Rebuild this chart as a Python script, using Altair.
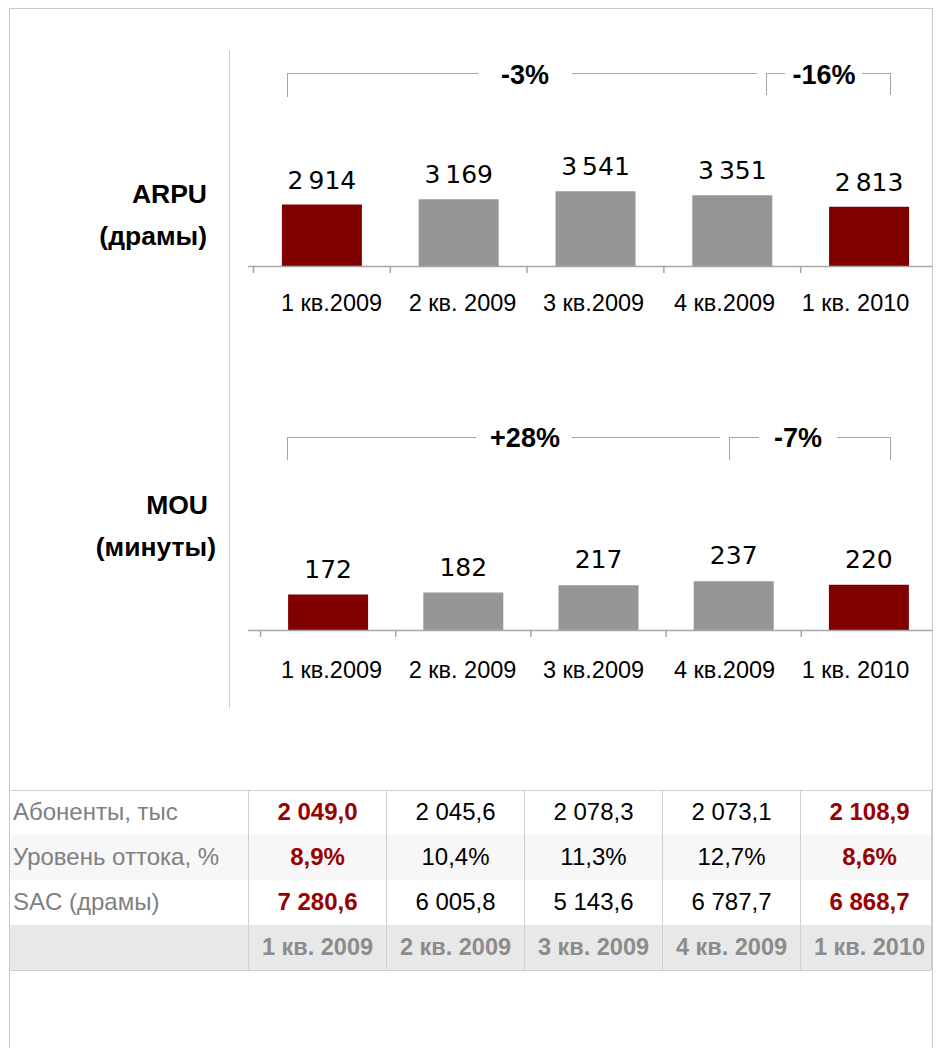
import altair as alt
import pandas as pd

# ---------------- data ----------------
quarters = ["1 кв.2009", "2 кв. 2009", "3 кв.2009", "4 кв.2009", "1 кв. 2010"]
table_quarters = ["1 кв. 2009", "2 кв. 2009", "3 кв. 2009", "4 кв. 2009", "1 кв. 2010"]
highlight = [True, False, False, False, True]
arpu = [2914, 3169, 3541, 3351, 2813]
mou = [172, 182, 217, 237, 220]
arpu_changes = ["-3%", "-16%"]
mou_changes = ["+28%", "-7%"]
arpu_title = ["ARPU", "(драмы)"]
mou_title = ["MOU", "(минуты)"]
row_labels = ["Абоненты, тыс", "Уровень оттока, %", "SAC (драмы)"]
subscribers = [2049.0, 2045.6, 2078.3, 2073.1, 2108.9]
churn = [8.9, 10.4, 11.3, 12.7, 8.6]
sac = [7280.6, 6005.8, 5143.6, 6787.7, 6868.7]


def ru_num(v, dec, sep=" "):
    s = f"{v:,.{dec}f}"
    return s.replace(",", "\u0001").replace(".", ",").replace("\u0001", sep)


# ---------------- style ----------------
RED = "#800000"
GRAY_BAR = "#969696"
TXT_RED = "#990000"
LINE = "#a6a6a6"
GRID = "#d0d0d0"
FRAME = "#c8c8c8"
FONT = "Liberation Sans"

W, H = 925, 1040
RIGHT = 932  # right-most visible page x


def P(v):
    return v - 8


one = pd.DataFrame({"k": [0]})


def hline(x1, x2, y, color=LINE, w=1.0):
    return alt.Chart(one).mark_rule(color=color, strokeWidth=w).encode(
        x=alt.value(P(x1)), x2=alt.value(P(x2)), y=alt.value(P(y) + 0.5))


def vline(x, y1, y2, color=LINE, w=1.0):
    return alt.Chart(one).mark_rule(color=color, strokeWidth=w).encode(
        x=alt.value(P(x) + 0.5), y=alt.value(P(y1)), y2=alt.value(P(y2)))


def note(text, x, y, size=27, weight="bold", align="center", color="black"):
    return alt.Chart(one).mark_text(
        text=text, font=FONT, fontSize=size, fontWeight=weight, align=align,
        baseline="middle", color=color).encode(x=alt.value(P(x)), y=alt.value(P(y)))


def bar_panel(values, band_range, zero_y, px_per_unit, dmax, dy):
    df = pd.DataFrame({"q": quarters, "v": values, "hl": highlight,
                       "lab": [ru_num(v, 0, "\u2009") for v in values]})
    xs = alt.Scale(domain=quarters, range=[P(band_range[0]) + 0.5, P(band_range[1]) + 0.5],
                   paddingInner=0, paddingOuter=0)
    ys = alt.Scale(domain=[0, dmax], range=[P(zero_y), P(zero_y) - dmax * px_per_unit],
                   nice=False, zero=True)
    X = alt.X("q:N", scale=xs, axis=None, sort=quarters)
    Y = alt.Y("v:Q", scale=ys, axis=None)
    bars = alt.Chart(df).mark_bar(size=80).encode(
        x=X, y=Y,
        color=alt.condition("datum.hl", alt.value(RED), alt.value(GRAY_BAR)))
    vals = alt.Chart(df).mark_text(
        font="DejaVu Sans", fontSize=25, baseline="alphabetic", dy=dy, color="black"
    ).encode(x=X, y=Y, text="lab:N")
    ticks = alt.Chart(df).mark_rule(color=LINE, strokeWidth=1.5).encode(
        x=alt.X("q:N", scale=xs, axis=None, sort=quarters, bandPosition=0),
        y=alt.value(P(zero_y)), y2=alt.value(P(zero_y) + 7))
    return alt.layer(bars, vals, ticks)


def axis_labels(y):
    df = pd.DataFrame({"lab": quarters})
    return alt.Chart(df).mark_text(
        font=FONT, fontSize=23.5, baseline="middle", color="black"
    ).encode(
        x=alt.X("lab:N", scale=alt.Scale(domain=quarters, range=[P(266), P(921)],
                                         paddingInner=0, paddingOuter=0),
                axis=None, sort=quarters),
        y=alt.value(P(y)), text="lab:N")


layers = []

# outer frame and separator
layers += [
    vline(9, 8, H + 8, FRAME),
    vline(RIGHT, 8, H + 8, FRAME),
    hline(9, RIGHT + 1, 8, FRAME),
    vline(229, 50, 708, "#d0d0d0"),
]

# ---------------- ARPU panel ----------------
layers.append(bar_panel(arpu, (253, 937), 266, 0.0211, 4000, -16))
layers += [
    hline(248, RIGHT, 266, LINE, 1.5),
]
layers.append(axis_labels(304))
layers += [
    note(arpu_title[0], 207, 195, size=26.5, align="right"),
    note(arpu_title[1], 207, 237, size=26.5, align="right"),
    hline(287, 478, 73), hline(572, 757, 73), vline(287, 73, 97),
    hline(766, 785, 73), hline(862, 890, 73), vline(766, 73, 95), vline(890, 73, 95),
    note(arpu_changes[0], 525, 76),
    note(arpu_changes[1], 824, 76),
]

# ---------------- MOU panel ----------------
layers.append(bar_panel(mou, (260, 936), 630, 0.206, 300, -17))
layers += [
    hline(248, RIGHT, 630, LINE, 1.5),
]
layers.append(axis_labels(671))
layers += [
    note(mou_title[0], 208, 506, size=26.5, align="right"),
    note(mou_title[1], 216, 548, size=26.5, align="right"),
    hline(287, 476, 437), hline(572, 720, 437), vline(287, 437, 460),
    hline(729, 759, 437), hline(837, 890, 437), vline(729, 437, 460), vline(890, 437, 460),
    note(mou_changes[0], 525, 439),
    note(mou_changes[1], 798, 439),
]

# ---------------- table ----------------
rows = ["r0", "r1", "r2", "r3"]
texts = [
    [ru_num(v, 1) for v in subscribers],
    [ru_num(v, 1) + "%" for v in churn],
    [ru_num(v, 1) for v in sac],
]
cells = []
for i, vals in enumerate(texts):
    for j, t in enumerate(vals):
        cells.append({"r": rows[i], "c": table_quarters[j], "t": t,
                      "hl": highlight[j], "hdr": False})
for j, t in enumerate(table_quarters):
    cells.append({"r": rows[3], "c": t, "t": t, "hl": highlight[j], "hdr": True})
cells_df = pd.DataFrame(cells)

xs_t = alt.Scale(domain=table_quarters, range=[P(248) + 0.5, P(938) + 0.5],
                 paddingInner=0, paddingOuter=0)
ys_t = alt.Scale(domain=rows, range=[P(790), P(970)], paddingInner=0, paddingOuter=0)
XT = alt.X("c:N", scale=xs_t, axis=None, sort=table_quarters)
YT = alt.Y("r:N", scale=ys_t, axis=None, sort=rows)

bg_df = pd.DataFrame({"r": ["r1", "r3"], "shade": ["light", "dark"]})
bg = alt.Chart(bg_df).mark_rect().encode(
    y=YT, x=alt.value(P(9) + 1), x2=alt.value(P(RIGHT - 1)),
    color=alt.Color("shade:N", scale=alt.Scale(domain=["light", "dark"],
                                               range=["#f7f7f7", "#e8e8e8"]), legend=None))
col_df = pd.DataFrame({"c": table_quarters})
vgrid = alt.Chart(col_df).mark_rule(color=GRID).encode(
    x=alt.X("c:N", scale=xs_t, axis=None, sort=table_quarters, bandPosition=0),
    y=alt.value(P(790)), y2=alt.value(P(970)))
reg = alt.Chart(cells_df).transform_filter("!datum.hl && !datum.hdr").mark_text(
    font=FONT, fontSize=24, color="black", baseline="middle").encode(x=XT, y=YT, text="t:N")
red = alt.Chart(cells_df).transform_filter("datum.hl && !datum.hdr").mark_text(
    font=FONT, fontSize=24, fontWeight="bold", color=TXT_RED, baseline="middle").encode(
    x=XT, y=YT, text="t:N")
hdr = alt.Chart(cells_df).transform_filter("datum.hdr").mark_text(
    font=FONT, fontSize=23.5, fontWeight="bold", color="#8c8c8c", baseline="middle").encode(
    x=XT, y=YT, text="t:N")
lab_df = pd.DataFrame({"r": rows[:3], "t": row_labels})
rlab = alt.Chart(lab_df).mark_text(
    font=FONT, fontSize=24, color="#808080", align="left", baseline="middle").encode(
    x=alt.value(P(13)), y=YT, text="t:N")

layers.append(alt.layer(bg, vgrid, reg, red, hdr, rlab))
layers += [
    hline(9, RIGHT - 1, 790, GRID), hline(9, RIGHT - 1, 970, GRID),
    vline(RIGHT - 1, 790, 970, GRID),
]

chart = alt.layer(*layers).resolve_scale(
    x="independent", y="independent", color="independent"
).properties(
    width=W, height=H, padding=0, autosize=alt.AutoSizeParams(type="none")
).configure_view(stroke=None)

chart.save("out.html", embed_options={"renderer": "svg", "actions": False})
